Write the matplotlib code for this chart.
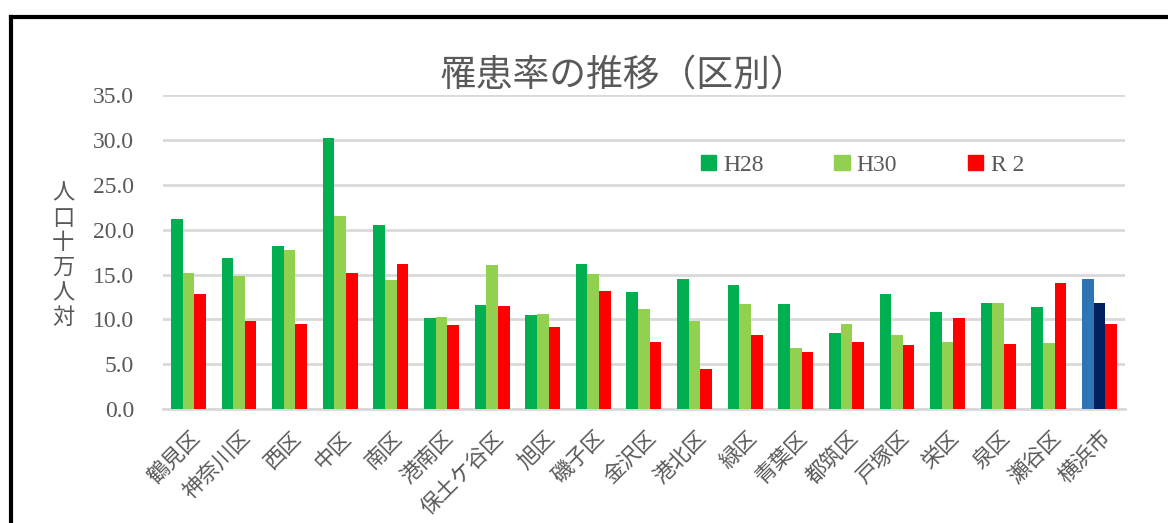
import numpy as np
import matplotlib
matplotlib.use('Agg')
import matplotlib.pyplot as plt
from matplotlib.lines import Line2D

# data
districts = ['鶴見区', '神奈川区', '西区', '中区', '南区', '港南区', '保土ケ谷区', '旭区',
             '磯子区', '金沢区', '港北区', '緑区', '青葉区', '都筑区', '戸塚区', '栄区',
             '泉区', '瀬谷区', '横浜市']
h28 = [21.2, 16.8, 18.2, 30.2, 20.5, 10.2, 11.6, 10.5, 16.2, 13.0, 14.5, 13.8, 11.7, 8.5, 12.8, 10.8, 11.8, 11.4, 14.5]
h30 = [15.2, 14.8, 17.7, 21.5, 14.4, 10.3, 16.1, 10.6, 15.1, 11.1, 9.8, 11.7, 6.8, 9.5, 8.2, 7.5, 11.8, 7.4, 11.8]
r2 = [12.8, 9.8, 9.5, 15.2, 16.2, 9.4, 11.5, 9.1, 13.2, 7.5, 4.5, 8.3, 6.4, 7.5, 7.1, 10.1, 7.2, 14.0, 9.5]
series_names = ['H28', 'H30', 'R 2']
yticks = [0, 5, 10, 15, 20, 25, 30, 35]

CJK = 'Noto Sans CJK JP'
SERIF = 'Liberation Serif'
GRAY = '#595959'

# last group (city total) uses blue / navy instead of greens
colors_h28 = ['#00B050'] * (len(districts) - 1) + ['#2E75B6']
colors_h30 = ['#92D050'] * (len(districts) - 1) + ['#002060']

fig = plt.figure(figsize=(11.68, 5.23), dpi=100)
ax = fig.add_axes([0.1396, 0.218, 0.8234, 0.600])

x = np.arange(len(districts))
w = 0.23
ax.bar(x - w, h28, w, color=colors_h28, zorder=3)
ax.bar(x, h30, w, color=colors_h30, zorder=3)
ax.bar(x + w, r2, w, color='#FF0000', zorder=3)

ax.set_xlim(-0.5, len(districts) - 0.5)
ax.set_ylim(0, 35)
ax.set_yticks(yticks)
ax.set_yticklabels([f'{v:.1f}' for v in yticks], family=SERIF, fontsize=17, color=GRAY)
ax.yaxis.grid(True, color='#D9D9D9', linewidth=2, zorder=0)
ax.tick_params(length=0)
ax.tick_params(axis='y', pad=21)
for s in ['top', 'right', 'left']:
    ax.spines[s].set_visible(False)
ax.spines['bottom'].set_color('#D9D9D9')
ax.spines['bottom'].set_linewidth(2)

ax.set_xticks(x + 0.02)
ax.set_xticklabels(districts, rotation=45, ha='right', rotation_mode='anchor',
                   family=CJK, fontsize=15.5, color=GRAY)
ax.tick_params(axis='x', pad=13)

handles = [plt.Rectangle((0, 0), 1, 1, color=c) for c in ['#00B050', '#92D050', '#FF0000']]
ax.legend(handles, series_names, ncol=3, loc='center', bbox_to_anchor=(0.727, 0.777),
          frameon=False, prop={'family': SERIF, 'size': 17}, labelcolor=GRAY,
          handlelength=0.65, handleheight=0.65, handletextpad=0.3, columnspacing=3.0)

fig.text(0.534, 0.855, '罹患率の推移（区別）', ha='center', va='center',
         family=CJK, fontsize=26.5, color=GRAY)
fig.text(0.054, 0.512, '\n'.join('人口十万人対'), ha='center', va='center',
         family=CJK, fontsize=16, color=GRAY, linespacing=1.1)

# black frame, only top and left edges fall inside the crop
fig.add_artist(Line2D([0.0094, 0.0094], [0.0, 0.968], transform=fig.transFigure, color='black', linewidth=3))
fig.add_artist(Line2D([0.0094, 1.0], [0.968, 0.968], transform=fig.transFigure, color='black', linewidth=3))

fig.savefig('out.png', dpi=100)
